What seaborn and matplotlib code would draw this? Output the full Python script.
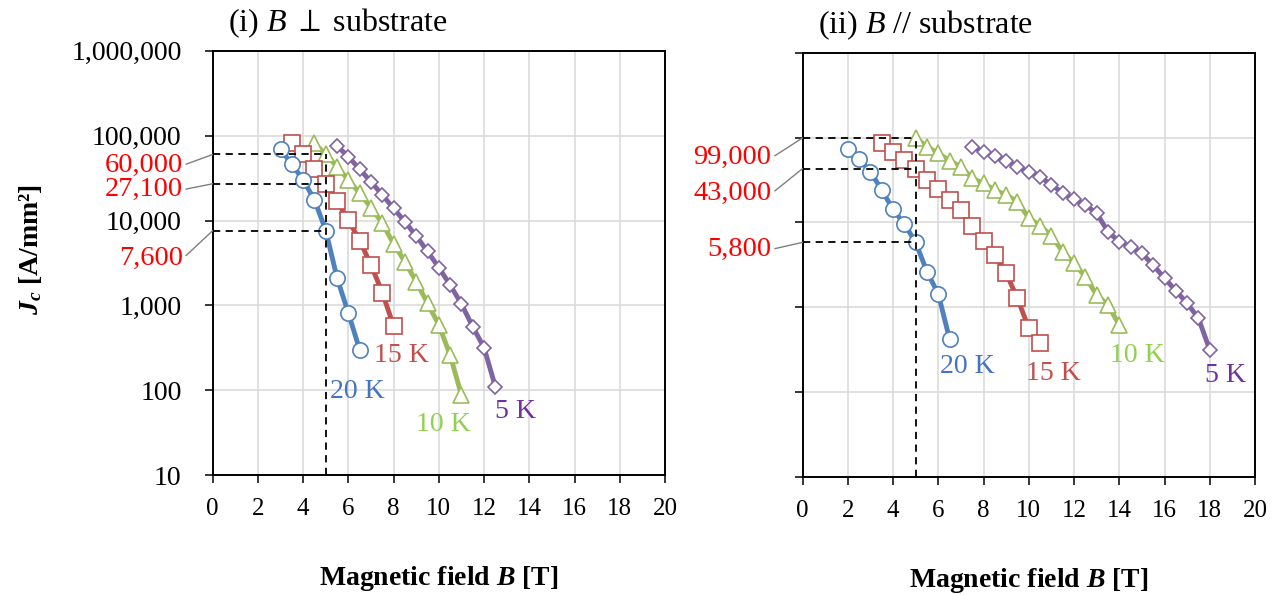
import matplotlib
matplotlib.use("Agg")
import matplotlib.pyplot as plt
import matplotlib.ticker as mticker
import seaborn as sns

# ---- values: B [T] and Jc [A/mm2] ----
# (i) B perpendicular to substrate
perp_B_20K = [3, 3.5, 4, 4.5, 5, 5.5, 6, 6.5]
perp_Jc_20K = [69000, 46000, 30000, 17500, 7600, 2100, 810, 300]
perp_B_15K = [3.5, 4, 4.5, 5, 5.5, 6, 6.5, 7, 7.5, 8]
perp_Jc_15K = [82000, 60500, 40000, 27100, 17000, 10100, 5800, 3000, 1420, 570]
perp_B_10K = [4.5, 5, 5.5, 6, 6.5, 7, 7.5, 8, 8.5, 9, 9.5, 10, 10.5, 11]
perp_Jc_10K = [81000, 60000, 43000, 30000, 21000, 14200, 9300, 5300, 3270, 1900, 1060, 590, 260, 88]
perp_B_5K = [5.5, 6, 6.5, 7, 7.5, 8, 8.5, 9, 9.5, 10, 10.5, 11, 11.5, 12, 12.5]
perp_Jc_5K = [75400, 56400, 40100, 28600, 20000, 13900, 9690, 6560, 4330, 2790, 1740, 1040, 561, 318, 110]

# (ii) B parallel to substrate
par_B_20K = [2, 2.5, 3, 3.5, 4, 4.5, 5, 5.5, 6, 6.5]
par_Jc_20K = [72600, 55700, 39500, 24100, 14200, 9550, 5800, 2610, 1430, 417]
par_B_15K = [3.5, 4, 4.5, 5, 5.5, 6, 6.5, 7, 7.5, 8, 8.5, 9, 9.5, 10, 10.5]
par_Jc_15K = [86900, 68000, 54300, 43000, 31500, 24500, 18300, 14000, 9040, 6040,
              4110, 2500, 1270, 562, 374]
par_B_10K = [5, 5.5, 6, 6.5, 7, 7.5, 8, 8.5, 9, 9.5, 10, 10.5, 11, 11.5, 12, 12.5, 13, 13.5, 14]
par_Jc_10K = [99000, 77900, 65200, 53200, 45300, 33000, 28800, 24000, 21000, 17500,
              11200, 9170, 6890, 4500, 3280, 2280, 1390, 1060, 615]
par_B_5K = [7.5, 8, 8.5, 9, 9.5, 10, 10.5, 11, 11.5, 12, 12.5, 13, 13.5, 14, 14.5, 15,
            15.5, 16, 16.5, 17, 17.5, 18]
par_Jc_5K = [77900, 68100, 60600, 52800, 45300, 39500, 34500, 27600, 22300, 18700, 16000,
             12800, 7740, 5900, 5150, 4300, 3130, 2190, 1560, 1110, 738, 312]

# Jc at B = 5 T, marked with dashed lines
B_mark = 5
perp_marks = [60000, 27100, 7600]
par_marks = [99000, 43000, 5800]
perp_mark_labels = ["60,000", "27,100", "7,600"]
par_mark_labels = ["99,000", "43,000", "5,800"]

temps = ["5 K", "10 K", "15 K", "20 K"]
line_colors = {"5 K": "#8064A2", "10 K": "#9BBB59", "15 K": "#C0504D", "20 K": "#4F81BD"}
text_colors = {"5 K": "#7030A0", "10 K": "#92D050", "15 K": "#C0504D", "20 K": "#4472C4"}
markers = {"5 K": "D", "10 K": "^", "15 K": "s", "20 K": "o"}
msizes = {"5 K": 7.5, "10 K": 12, "15 K": 11.5, "20 K": 11}

sns.set_theme(style="white")
plt.rcParams["font.family"] = ["Liberation Serif", "DejaVu Serif"]
plt.rcParams["text.color"] = "black"
plt.rcParams["mathtext.fontset"] = "custom"
plt.rcParams["mathtext.rm"] = "Liberation Serif"
plt.rcParams["mathtext.it"] = "Liberation Serif:italic"
plt.rcParams["mathtext.bf"] = "Liberation Serif:bold"
plt.rcParams["mathtext.bfit"] = "Liberation Serif:italic:bold"
plt.rcParams["mathtext.fallback"] = "stix"

fig = plt.figure(figsize=(12.8, 5.95), dpi=100)
ax1 = fig.add_axes([0.1662, 0.2012, 0.3533, 0.7136])
ax2 = fig.add_axes([0.6270, 0.1988, 0.3535, 0.7126])

series = {
    ax1: {"5 K": (perp_B_5K, perp_Jc_5K), "10 K": (perp_B_10K, perp_Jc_10K),
          "15 K": (perp_B_15K, perp_Jc_15K), "20 K": (perp_B_20K, perp_Jc_20K)},
    ax2: {"5 K": (par_B_5K, par_Jc_5K), "10 K": (par_B_10K, par_Jc_10K),
          "15 K": (par_B_15K, par_Jc_15K), "20 K": (par_B_20K, par_Jc_20K)},
}

for ax in (ax1, ax2):
    for t in temps:
        b, jc = series[ax][t]
        c = line_colors[t]
        sns.lineplot(x=b, y=jc, ax=ax, color=c, linewidth=3.5, sort=False,
                     marker=markers[t], markersize=msizes[t], markerfacecolor="white",
                     markeredgecolor=c, markeredgewidth=1.2, zorder=3)
    ax.set_yscale("log")
    ax.set_xlim(0, 20)
    ax.set_ylim(10, 1e6)
    ax.set_xticks(range(0, 21, 2))
    ax.set_yticks([10, 100, 1000, 10000, 100000, 1000000])
    ax.yaxis.set_minor_locator(mticker.NullLocator())
    ax.grid(True, color="#d9d9d9", linewidth=1.1)
    ax.set_axisbelow(True)
    for s in ax.spines.values():
        s.set_color("black")
        s.set_linewidth(1.4)
        s.set_visible(True)
    ax.tick_params(axis="both", direction="out", length=5.5, width=1.1, color="black",
                   labelcolor="black", bottom=True, left=True)
    ax.tick_params(axis="x", labelsize=18, pad=11)
    ax.tick_params(axis="y", labelsize=20, pad=17)
    ax.set_xlabel(r"Magnetic field $\mathbfit{B}$ [T]", fontsize=20, fontweight="bold",
                  color="black")
    ax.xaxis.set_label_coords(0.5, -0.21)
    ax.set_ylabel("")

ax1.yaxis.set_major_formatter(mticker.FuncFormatter(lambda v, p: f"{v:,.0f}"))
ax2.yaxis.set_major_formatter(mticker.NullFormatter())

# dashed guide lines at 5 T
for ax, marks in ((ax1, perp_marks), (ax2, par_marks)):
    ax.hlines(marks, 0, B_mark, colors="black", linestyles=(0, (4, 3)), linewidth=1.3, zorder=4)
    ax.vlines(B_mark, 10, max(marks), colors="black", linestyles=(0, (4, 3)), linewidth=1.3, zorder=4)

# red value labels with leader lines
perp_offsets = [(-30, -11), (-30, -6), (-30, -28)]
par_offsets = [(-31, -20), (-31, -25), (-31, -7)]
for ax, marks, labels, offs in ((ax1, perp_marks, perp_mark_labels, perp_offsets),
                                (ax2, par_marks, par_mark_labels, par_offsets)):
    for v, lab, off in zip(marks, labels, offs):
        ax.annotate(lab, xy=(0, v), xycoords="data", xytext=off, textcoords="offset pixels",
                    ha="right", va="center", color="red", fontsize=20.5, annotation_clip=False,
                    arrowprops=dict(arrowstyle="-", color="#7f7f7f", lw=1.0,
                                    shrinkA=0, shrinkB=0, relpos=(1, 0.5)))

# temperature labels next to the curves
perp_text_pos = {"20 K": (6.4, 98), "15 K": (8.33, 260), "10 K": (10.2, 40), "5 K": (13.4, 57)}
par_text_pos = {"20 K": (7.3, 202), "15 K": (11.07, 167), "10 K": (14.8, 272), "5 K": (18.7, 158)}
for ax, pos in ((ax1, perp_text_pos), (ax2, par_text_pos)):
    for t in temps:
        ax.text(pos[t][0], pos[t][1], t, color=text_colors[t], fontsize=20,
                ha="center", va="center")

ax1.text(0.034, 1.065, r"(i) $\mathit{B}\ \perp$ substrate", transform=ax1.transAxes,
         ha="left", va="center", fontsize=23)
ax2.text(0.034, 1.065, r"(ii) $\mathit{B}$ // substrate", transform=ax2.transAxes,
         ha="left", va="center", fontsize=23)

fig.text(0.024, 0.58, r"$\mathbfit{J_c}$ [A/mm²]", rotation=90, ha="center", va="center",
         fontsize=20, fontweight="bold")

fig.savefig("out.png", dpi=100)
plt.close(fig)
